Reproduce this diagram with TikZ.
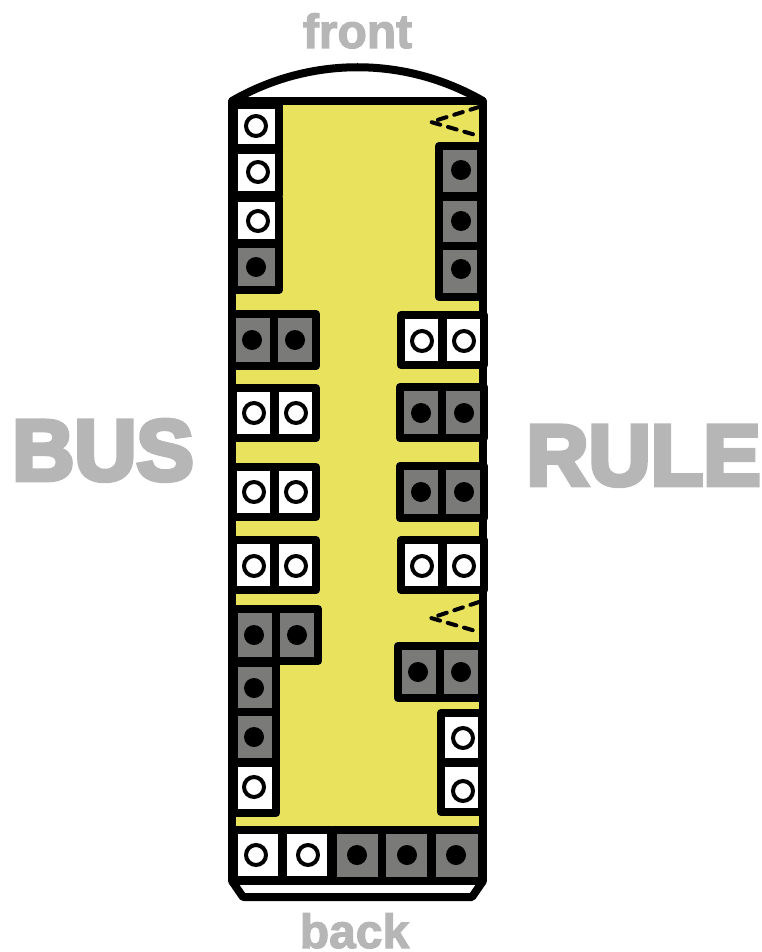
\documentclass[tikz,border=0pt]{standalone}
\usepackage{fontspec}
\newfontfamily\heavyfont[FakeBold=5.5]{Liberation Sans Bold}
\newfontfamily\endfont[FakeBold=2.5]{Liberation Sans Bold}
\definecolor{busyellow}{HTML}{E9E25D}
\definecolor{seatgrey}{HTML}{7A7A78}
\definecolor{labelgrey}{HTML}{B6B6B6}
\tikzset{
  emptyseat/.style ={draw, line width=8pt, line join=round, inner sep=0pt, fill=white},
  fullseat/.style  ={draw, line width=8pt, line join=round, inner sep=0pt, fill=seatgrey},
  emptydot/.style  ={draw, circle, line width=4pt, inner sep=0pt, minimum size=20pt, fill=white},
  fulldot/.style   ={circle, inner sep=0pt, minimum size=20pt, fill=black},
  wall/.style      ={draw, line width=8pt, line join=round},
  door/.style      ={line width=4pt, line cap=round, dash pattern=on 9pt off 8pt},
  side/.style      ={anchor=base, text=labelgrey, inner sep=0pt, font=\heavyfont\fontsize{86}{86}\selectfont},
  endlbl/.style    ={anchor=base, text=labelgrey, inner sep=0pt, font=\endfont\fontsize{48}{48}\selectfont},
}

\begin{document}
\begin{tikzpicture}[x=1pt,y=-1pt]
  \useasboundingbox (0,0) rectangle (761,952);
  % body
  \fill[busyellow] (232,101) rectangle (483,881);
  \draw[wall] (232,101) .. controls (310,56) and (405,56) .. (483,101);
  \draw[wall] (232,101) rectangle (483,881);
  \draw[wall] (232,881) -- (243,897) -- (472,897) -- (483,881);
  % doors
  \coordinate (dooraup) at (479,107);
  \coordinate (dooratip) at (431,122);
  \coordinate (dooradn) at (479,136);
  \coordinate (doorbup) at (479,602);
  \coordinate (doorbtip) at (431,618);
  \coordinate (doorbdn) at (479,632);
  \draw[door] (dooraup) -- (dooratip) -- (dooradn);
  \draw[door] (doorbup) -- (doorbtip) -- (doorbdn);
  % seats: name/kind/left/top/right/bottom/dot x/dot y
  \foreach \nm/\kind/\xa/\ya/\xb/\yb/\cx/\cy in {
    la/empty/238/109/275/144/256/126,
    lb/empty/238/154/275/191/258/172,
    lc/empty/238/202/275/239/258/221,
    ld/full/238/248/275/286/256/267,
    ra/full/443/150/477/192/461/170,
    rb/full/443/201/477/242/461/221,
    rc/full/443/250/477/293/461/269,
    le/full/236/318/270/362/252/340,
    lf/full/278/318/312/362/295/340,
    lg/empty/237/392/270/434/254/413,
    lh/empty/279/392/312/434/296/413,
    li/empty/237/471/270/513/254/492,
    lj/empty/279/471/312/513/296/492,
    lk/empty/237/544/270/586/254/566,
    ll/empty/279/544/312/586/296/566,
    rd/empty/405/319/438/361/422/341,
    re/empty/447/319/480/361/464/341,
    rf/full/404/391/438/434/421/413,
    rg/full/446/391/480/434/464/413,
    rh/full/404/470/438/514/421/492,
    ri/full/446/470/480/514/464/492,
    rj/empty/405/544/438/586/422/566,
    rk/empty/447/544/480/586/464/566,
    lm/full/238/613/273/657/254/635,
    ln/full/280/613/314/657/297/635,
    lo/full/238/667/272/708/254/688,
    lp/full/238/716/272/758/254/737,
    lq/empty/238/767/272/809/254/787,
    rl/full/402/650/436/694/418/672,
    rm/full/444/650/478/694/461/672,
    rn/empty/445/717/478/758/463/738,
    ro/empty/445/767/478/808/463/791,
    ba/empty/238/834/278/876/256/855,
    bb/empty/287/834/327/876/308/855,
    bc/full/337/834/378/877/357/855,
    bd/full/386/834/427/877/407/855,
    be/full/436/834/478/877/456/855}
  {
    \pgfmathsetmacro{\seatw}{\xb-\xa+8}
    \pgfmathsetmacro{\seath}{\yb-\ya+8}
    \node[\kind seat, minimum width=\seatw pt, minimum height=\seath pt] (\nm) at ({(\xa+\xb)/2},{(\ya+\yb)/2}) {};
    \node[\kind dot] (\nm dot) at (\cx,\cy) {};
  }
  % labels
  \node[side] (bus) at (103,480) {BUS};
  \node[side] (rule) at (643.5,485) {RULE};
  \node[endlbl] (front) at (357.5,48) {front};
  \node[endlbl] (back) at (354.5,948) {back};
\end{tikzpicture}
\end{document}
